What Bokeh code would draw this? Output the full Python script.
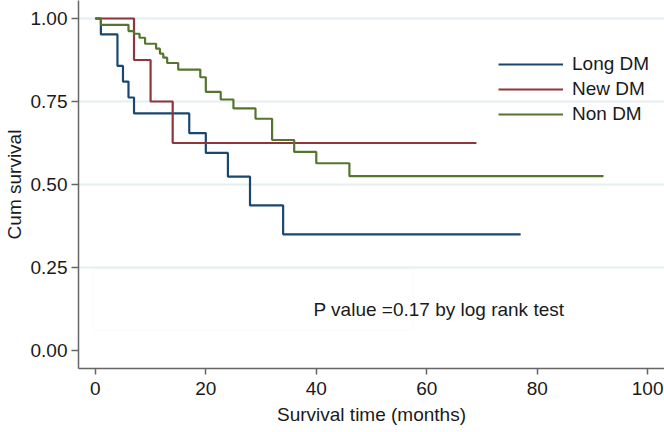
from bokeh.plotting import figure
from bokeh.models import (Range1d, FixedTicker, NumeralTickFormatter, Legend,
                          LegendItem, Label, BoxAnnotation)
from bokeh.embed import file_html
from bokeh.resources import INLINE

# ---- data (Kaplan-Meier step estimates) ----
long_dm_time = [0, 1, 4, 5, 6, 7, 17, 20, 24, 28, 34, 77]
long_dm_surv = [1.0, 0.952, 0.857, 0.810, 0.762, 0.714, 0.655, 0.595, 0.524, 0.437, 0.350, 0.350]

new_dm_time = [0, 7, 10, 14, 69]
new_dm_surv = [1.0, 0.875, 0.750, 0.625, 0.625]

non_dm_time = [0, 1, 6, 7, 8, 9, 11, 11.7, 12.3, 13, 15, 19, 20, 22.7, 25, 29, 32, 36, 40, 46, 92]
non_dm_surv = [1.0, 0.981, 0.962, 0.954, 0.942, 0.924, 0.909, 0.894, 0.882, 0.866, 0.846,
               0.823, 0.779, 0.756, 0.729, 0.698, 0.634, 0.598, 0.564, 0.525, 0.525]

series_names = ["Long DM", "New DM", "Non DM"]
series_colors = ["#1a476f", "#90353b", "#55752f"]

x_ticks = [0, 20, 40, 60, 80, 100]
y_ticks = [0.0, 0.25, 0.50, 0.75, 1.0]
grid_ticks = [0.25, 0.50, 0.75, 1.0]

x_title = "Survival time (months)"
y_title = "Cum survival"
p_value_text = "P value =0.17 by log rank test"

FONT = "Liberation Sans"
FS = "19px"
AXIS_COLOR = "#666666"
TEXT_COLOR = "#1a1a1a"

p = figure(width=664, height=432, output_backend="svg", toolbar_location=None,
           x_range=Range1d(-3.052, 103.05), y_range=Range1d(-0.0542, 1.0542),
           min_border_left=73, min_border_right=0, min_border_top=0,
           min_border_bottom=64)
p.outline_line_color = None
p.background_fill_color = "white"
p.border_fill_color = "white"

p.xgrid.visible = False
p.ygrid.ticker = FixedTicker(ticks=grid_ticks)
p.ygrid.grid_line_color = "#e5eef0"
p.ygrid.grid_line_width = 2

for ax, ticks in ((p.xaxis, x_ticks), (p.yaxis, y_ticks)):
    ax.ticker = FixedTicker(ticks=ticks, minor_ticks=[])
    ax.axis_line_color = AXIS_COLOR
    ax.axis_line_width = 1.5
    ax.major_tick_line_color = AXIS_COLOR
    ax.major_tick_line_width = 1.5
    ax.major_tick_in = 0
    ax.minor_tick_in = 0
    ax.minor_tick_out = 0
    ax.major_label_text_font = FONT
    ax.major_label_text_font_size = FS
    ax.major_label_text_color = TEXT_COLOR
    ax.axis_label_text_font = FONT
    ax.axis_label_text_font_size = FS
    ax.axis_label_text_font_style = "normal"
    ax.axis_label_text_color = TEXT_COLOR

p.xaxis.axis_label = x_title
p.yaxis.axis_label = y_title
p.xaxis.major_tick_out = 6
p.xaxis.major_label_standoff = 7
p.xaxis.axis_label_standoff = 6
p.yaxis.major_tick_out = 7
p.yaxis.major_label_standoff = 4
p.yaxis.axis_label_standoff = 3
p.yaxis.formatter = NumeralTickFormatter(format="0.00")

# text box behind the p-value note
p.add_layout(BoxAnnotation(left=-0.36, right=57.6, bottom=0.063, top=0.244,
                           fill_color="white", fill_alpha=1.0,
                           line_color="#eef1f1", line_width=1, level="underlay"))

times = [long_dm_time, new_dm_time, non_dm_time]
survs = [long_dm_surv, new_dm_surv, non_dm_surv]
renderers = []
for t, s, c in zip(times, survs, series_colors):
    r = p.step(x=t, y=s, mode="after", line_color=c, line_width=2.2)
    renderers.append(r)

legend = Legend(items=[LegendItem(label=n, renderers=[r]) for n, r in zip(series_names, renderers)],
                location=(420, 243), orientation="vertical",
                glyph_width=65, glyph_height=22, label_height=22, spacing=3,
                padding=0, margin=0, label_standoff=9,
                border_line_color=None, background_fill_alpha=0,
                label_text_font=FONT, label_text_font_size=FS,
                label_text_color=TEXT_COLOR)
p.add_layout(legend)

p.add_layout(Label(x=235, y=59, x_units="screen", y_units="screen", text=p_value_text,
                   text_font=FONT, text_font_size=FS, text_color=TEXT_COLOR,
                   text_align="left", text_baseline="middle"))

open("out.html", "w").write(file_html(p, INLINE))
